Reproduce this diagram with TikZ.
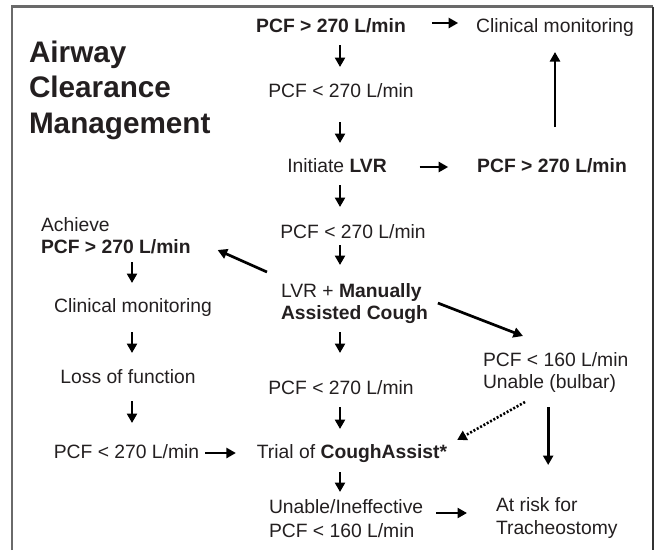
\documentclass[tikz,border=0pt]{standalone}
\usepackage{fontspec}
\setmainfont{Liberation Sans}
\usetikzlibrary{arrows.meta,calc}
\definecolor{ink}{HTML}{231F20}
\definecolor{framegray}{HTML}{6A6A6A}
\newcommand\sx{\rule[-4pt]{0pt}{18pt}}
\begin{document}
\begin{tikzpicture}[x=1pt,y=-1pt,
  txt/.style={inner sep=0pt,outer sep=0pt,text=ink,font=\fontsize{19.3}{22}\selectfont,text height=14pt,text depth=4pt},
  mtxt/.style={inner sep=0pt,outer sep=0pt,text=ink,align=left,anchor=north west},
  arr/.style={line width=2.7pt,-{Triangle[length=9.5pt,width=10pt]}},
  dotarr/.style={line width=2.6pt,dash pattern=on 2pt off 1.8pt,-{Triangle[length=9.5pt,width=10pt]}},
]
\useasboundingbox (0,0) rectangle (660,550);
% frame
\draw[framegray,line width=2.4pt] (12,550) -- (12,6.5) -- (653,6.5);
\draw[black!80,line width=1.2pt] (653,6.5) -- (653,550);

% title
\node[mtxt,font=\fontsize{29.7}{35.5}\selectfont\bfseries] (title) at (29,40.5) {Airway\\Clearance\\Management};

% main column
\node[txt,anchor=base] (n1) at (331,32.5) {\bfseries PCF > 270 L/min};
\node[txt,anchor=base] (cm1) at (555,32.5) {Clinical monitoring};
\node[txt,anchor=base] (n2) at (341,97) {PCF < 270 L/min};
\node[txt,anchor=base] (n3) at (337,172) {Initiate \textbf{LVR}};
\node[txt,anchor=base] (n4) at (552,172) {\bfseries PCF > 270 L/min};
\node[txt,anchor=base] (n5) at (353,238) {PCF < 270 L/min};
\node[mtxt,font=\fontsize{19.3}{22}\selectfont] (n6) at (281,283) {\sx LVR + \textbf{Manually}\\\sx\textbf{Assisted Cough}};
\node[txt,anchor=base] (n7) at (341,394) {PCF < 270 L/min};
\node[txt,anchor=base] (trial) at (352,458) {Trial of \textbf{CoughAssist*}};
\node[mtxt,font=\fontsize{19.3}{24}\selectfont] (unable) at (269,499) {\sx Unable/Ineffective\\\sx PCF < 160 L/min};

% left column
\node[mtxt,font=\fontsize{19.3}{22}\selectfont] (ach) at (41,217) {\sx Achieve\\\sx\textbf{PCF > 270 L/min}};
\node[txt,anchor=base] (cm2) at (133,312) {Clinical monitoring};
\node[txt,anchor=base] (lof) at (128,383) {Loss of function};
\node[txt,anchor=base] (p3) at (126.5,458) {PCF < 270 L/min};

% right column
\node[mtxt,font=\fontsize{19.3}{22}\selectfont] (bulbar) at (483,352) {\sx PCF < 160 L/min\\\sx Unable (bulbar)};
\node[mtxt,font=\fontsize{19.3}{23}\selectfont] (risk) at (496,497) {\sx At risk for\\\sx Tracheostomy};

\coordinate (col) at (340,0);
\coordinate (lcol) at (132,0);

% vertical arrows, main column
\draw[arr,shorten <=8.5pt,shorten >=16pt] (n1.south -| col) -- (n2.north -| col);
\draw[arr,shorten <=21pt,shorten >=15pt] (n2.south -| col) -- (n3.north -| col);
\draw[arr,shorten <=9pt,shorten >=17pt] (n3.south -| col) -- (n5.north -| col);
\draw[arr,shorten <=3pt,shorten >=18pt] (n5.south -| col) -- (n6.north -| col);
\draw[arr,shorten <=9pt,shorten >=27pt] (n6.south -| col) -- (n7.north -| col);
\draw[arr,shorten <=9pt,shorten >=15pt] (n7.south -| col) -- (trial.north -| col);
\draw[arr,shorten <=10pt,shorten >=7pt] (trial.south -| col) -- (unable.north -| col);

% left column arrows
\draw[arr,shorten <=5pt,shorten >=15pt] (ach.south -| lcol) -- (cm2.north -| lcol);
\draw[arr,shorten <=16pt,shorten >=16pt] (cm2.south -| lcol) -- (lof.north -| lcol);
\draw[arr,shorten <=14pt,shorten >=21pt] (lof.south -| lcol) -- (p3.north -| lcol);

% horizontal arrows
\draw[arr,shorten <=26pt,shorten >=18pt] ([yshift=4.5pt]n1.east) -- ([yshift=4.5pt]n1.east -| cm1.west);
\draw[arr,shorten <=33pt,shorten >=29pt] (n3.east) -- (n3.east -| n4.west);
\draw[arr,shorten <=6pt,shorten >=21pt] (p3.east) -- (p3.east -| trial.west);
\draw[arr,shorten <=13pt,shorten >=29pt] ([yshift=7pt]unable.east) -- ([yshift=7pt]unable.east -| risk.west);

% up arrow to clinical monitoring
\draw[arr,shorten <=31pt,shorten >=15.5pt] ([xshift=3pt]n4.north) -- ([xshift=3pt]n4.north |- cm1.south);
% bulbar to risk
\draw[arr,shorten <=15pt,shorten >=32pt] ([xshift=-7.5pt]bulbar.south) -- ([xshift=-7.5pt]bulbar.south |- risk.north);

% diagonals
\draw[arr] ($(n6.north west)+(-14,-11)$) -- ($(ach.east)+(27,13)$);
\draw[arr] ($(n6.east)+(10,0)$) -- ($(bulbar.north west)+(40,-16)$);
\draw[dotarr] ($(bulbar.south west)+(42,10)$) -- ($(trial.east)+(10,-13)$);
\end{tikzpicture}
\end{document}
